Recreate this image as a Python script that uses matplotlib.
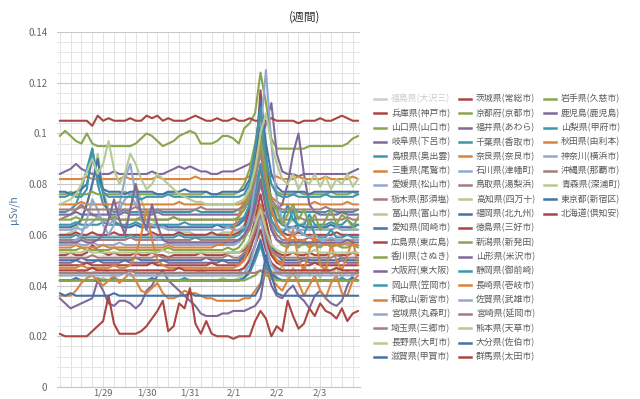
import numpy as np
import pandas as pd
import matplotlib
matplotlib.use("Agg")
import matplotlib.pyplot as plt
from matplotlib.lines import Line2D
from matplotlib.ticker import MultipleLocator, FixedLocator, FuncFormatter
import matplotlib.dates as mdates

plt.rcParams['font.family'] = ['Noto Sans CJK JP', 'DejaVu Sans']

# ---------------- data (3-hourly readings, nSv/h) ----------------
times = pd.date_range('2014-01-28 00:00', periods=56, freq='3h')
tick_labels = ['1/29', '1/30', '1/31', '2/1', '2/2', '2/3']
tick_dates = pd.to_datetime(['2014-01-29', '2014-01-30', '2014-01-31',
                             '2014-02-01', '2014-02-02', '2014-02-03'])

hyogo = [52,52,53,52,52,53,56,54, 53,52,53,52,52,52,53,52, 52,53,52,52,51,52,52,52, 52,52,53,52,52,52,52,53, 53,53,54,58,66,76,66,56, 53,52,52,53,52,52,53,52, 52,52,53,52,52,52,53,52]
yamaguchi = [99,101,99,97,96,100,96,95, 95,95,95,95,95,95,96,98, 100,99,97,95,96,97,99,100, 101,100,96,96,96,97,99,99, 98,96,102,104,108,124,112,98, 94,94,94,94,94,94,95,95, 95,95,95,95,95,96,98,99]
gifu = [84,85,86,88,86,85,84,84, 84,84,85,84,84,84,84,84, 84,85,84,84,85,86,87,86, 87,86,85,85,84,84,85,85, 85,86,87,88,90,96,104,112, 92,85,84,84,83,84,84,84, 84,84,84,84,84,84,85,86]
shimane = [69,69,70,72,78,86,94,80, 72,70,69,69,70,69,69,69, 69,69,70,69,69,69,69,69, 69,70,69,69,69,69,69,69, 69,70,72,78,90,102,84,74, 70,69,69,70,69,69,69,69, 69,69,70,69,69,69,69,70]
mie = [82,82,82,82,82,83,82,82, 82,82,82,82,83,82,82,82, 82,82,83,82,82,82,82,82, 82,83,82,82,82,82,82,82, 82,82,82,83,88,95,86,83, 83,82,82,82,83,82,82,82, 82,83,82,82,82,82,83,82]
ehime = [56,56,56,57,56,56,57,56, 56,56,56,57,56,56,56,56, 56,56,56,56,57,56,56,56, 56,56,56,56,56,56,56,56, 56,57,60,68,82,96,78,62, 58,57,56,56,56,56,57,56, 56,56,56,56,57,56,56,56]
tochigi = [66,67,68,70,72,70,68,67, 66,66,67,66,66,66,66,67, 66,66,66,66,66,67,66,66, 66,66,66,66,66,66,66,66, 66,66,67,68,72,80,74,68, 66,66,66,66,67,66,66,66, 66,66,66,66,66,67,66,66]
toyama = [60,60,61,62,66,72,80,92, 78,70,66,64,62,70,80,74, 68,66,64,63,62,62,61,61, 61,60,60,60,60,60,61,61, 61,62,64,70,82,96,88,74, 68,66,64,66,63,65,62,64, 62,63,62,63,62,62,63,62]
aichi = [63,63,63,64,66,72,80,90, 76,68,65,64,63,63,64,63, 63,63,63,64,63,63,63,63, 63,63,63,63,63,64,63,63, 63,64,66,72,84,104,88,72, 66,64,63,63,64,63,63,63, 63,63,64,63,63,63,63,64]
hiroshima = [60,60,60,61,60,60,61,60, 60,60,61,60,60,60,60,60, 60,61,60,60,60,60,61,60, 60,60,60,60,61,60,60,60, 60,61,63,70,86,117,92,70, 64,61,60,60,61,60,60,60, 60,60,60,61,60,60,60,60]
kagawa = [76,76,77,76,76,76,77,76, 76,76,76,76,77,76,76,76, 76,76,76,76,77,76,76,76, 76,76,76,77,76,76,76,76, 76,77,80,86,96,108,88,80, 77,76,76,76,77,76,76,76, 76,76,77,76,76,76,77,76]
osaka = [49,49,49,50,49,49,49,50, 49,49,49,49,50,49,49,49, 49,49,49,50,49,49,49,49, 49,49,49,49,49,49,50,49, 49,49,51,55,62,68,58,52, 50,49,49,49,49,50,49,49, 49,49,49,49,50,49,49,49]
okayama = [64,64,64,65,64,64,64,64, 65,64,64,64,64,64,65,64, 64,64,64,64,64,64,64,65, 64,64,64,64,64,64,64,64, 64,65,67,72,82,94,80,70, 66,65,72,66,64,64,68,64, 64,64,65,64,64,66,64,64]
wakayama = [72,72,72,72,73,72,72,72, 72,72,72,73,72,72,72,72, 72,72,72,72,72,72,73,72, 72,72,72,72,72,72,72,72, 72,72,73,76,84,92,80,75, 73,72,72,72,72,72,72,73, 72,72,72,72,72,73,72,72]
miyagi = [62,62,62,63,62,63,65,67, 66,64,66,70,74,76,72,68, 65,64,63,63,62,62,62,62, 62,62,62,62,62,62,62,63, 62,62,63,64,66,70,68,65, 63,62,62,63,62,62,62,62, 62,62,62,63,62,62,62,62]
saitama = [58,58,58,58,59,58,58,58, 58,58,58,58,58,59,58,58, 58,58,58,58,58,58,58,58, 58,59,58,58,58,58,58,58, 58,58,59,62,70,80,72,64, 60,58,58,58,58,58,59,58, 58,58,58,58,58,58,58,58]
nagano = [44,44,44,45,44,44,45,46, 47,45,44,44,45,44,44,44, 44,44,44,44,44,44,44,44, 44,44,44,44,44,44,44,44, 44,44,45,46,50,56,50,46, 44,48,43,47,43,48,44,47, 43,48,44,47,43,46,44,45]
shiga = [77,77,76,77,78,80,90,84, 78,77,77,77,76,77,77,77, 77,77,76,76,77,77,77,78, 77,77,77,77,76,76,77,77, 77,77,78,82,92,113,96,84, 79,77,77,77,77,77,76,77, 77,77,77,77,77,77,77,77]
ibaraki = [105,105,105,105,105,105,103,107, 105,106,105,105,105,106,105,105, 107,106,107,105,106,105,105,105, 106,107,106,105,105,106,105,105, 106,105,105,106,105,105,105,106, 105,105,105,105,104,105,105,105, 106,105,105,106,107,106,105,105]
kyoto = [54,54,54,54,55,54,54,54, 54,54,55,54,54,54,54,54, 54,54,54,54,55,54,54,54, 54,54,54,54,54,54,54,55, 54,55,58,64,74,86,72,62, 58,56,55,58,55,57,55,56, 55,57,55,56,55,55,56,55]
fukui = [68,68,68,69,68,68,68,68, 68,68,68,68,69,68,68,68, 68,68,69,68,68,68,68,68, 68,68,68,68,68,68,68,68, 68,68,70,74,80,86,78,72, 70,72,80,92,100,84,72,69, 68,68,68,68,69,68,68,68]
chiba = [59,59,59,60,59,59,59,59, 59,59,59,59,59,60,59,59, 59,59,59,59,59,59,60,59, 59,59,59,59,59,59,59,59, 59,60,62,66,76,88,76,66, 62,60,64,70,62,60,66,60, 59,59,62,59,59,60,59,59]
nara = [55,55,55,56,55,55,55,55, 56,55,55,55,55,55,55,55, 55,55,55,55,56,55,55,55, 55,55,55,55,55,56,56,58, 62,68,74,78,86,96,82,70, 64,60,58,60,57,58,56,58, 57,56,57,56,56,57,56,56]
ishikawa = [57,57,57,58,60,66,74,70, 64,60,64,72,82,88,76,66, 62,60,58,58,57,57,57,57, 57,57,57,57,57,57,57,57, 57,58,60,66,80,100,125,96, 74,66,62,60,62,60,59,60, 58,58,59,58,58,58,58,58]
tottori = [70,70,70,70,71,70,70,70, 70,70,70,70,70,70,71,70, 70,70,70,70,70,70,70,70, 70,70,71,70,70,70,70,70, 70,70,71,74,82,92,82,74, 71,70,70,70,70,70,70,70, 70,71,70,70,70,70,70,70]
kochi = [42,42,42,42,42,42,42,42, 43,42,42,42,42,42,42,42, 42,42,42,42,42,42,42,42, 42,42,42,42,42,42,43,42, 42,43,44,52,62,58,48,44, 43,42,42,42,42,42,42,42, 42,42,42,42,42,42,42,42]
fukuoka = [50,50,50,50,51,50,50,50, 50,50,50,50,50,50,51,50, 50,50,50,50,50,50,50,50, 50,50,50,51,50,50,50,50, 50,50,52,56,64,72,62,55, 52,50,50,50,50,51,50,50, 50,50,50,50,51,50,50,50]
tokushima = [48,48,48,48,48,49,48,48, 48,48,48,48,48,48,48,48, 48,49,48,48,48,48,48,48, 48,48,48,48,49,48,48,48, 48,48,50,54,60,66,58,52, 49,48,48,48,48,48,48,49, 48,48,48,48,48,48,48,48]
niigata = [66,66,66,67,66,66,66,66, 66,66,67,66,66,66,66,66, 66,66,66,66,66,67,66,66, 66,66,66,66,66,66,66,66, 66,67,70,76,86,98,84,72, 70,64,68,72,66,70,64,68, 62,66,70,64,68,66,63,67]
yamagata = [35,33,31,32,33,34,35,42, 38,33,32,34,34,33,31,33, 38,40,44,46,42,40,38,36, 34,32,29,28,28,28,29,29, 30,30,30,31,32,35,48,40, 36,35,38,40,36,34,31,36, 38,35,33,32,34,40,44,46]
shizuoka = [42,42,42,42,42,42,42,42, 42,42,43,42,42,42,42,42, 42,42,42,42,42,42,42,43, 42,42,42,42,42,42,42,42, 42,42,43,45,50,56,48,44, 43,42,42,42,42,42,42,42, 42,42,42,42,43,42,42,42]
nagasaki = [47,47,47,47,48,47,47,47, 47,47,48,47,47,48,52,60, 70,58,50,48,47,47,47,47, 47,47,47,47,47,47,47,47, 47,48,50,56,64,72,62,54, 50,48,56,62,50,46,54,60, 48,46,56,50,46,52,58,48]
saga = [45,45,45,45,46,45,45,45, 45,45,45,45,45,46,45,45, 45,45,45,45,45,45,45,45, 45,45,46,45,45,45,45,45, 45,45,47,50,56,62,54,48, 46,45,45,45,45,45,45,45, 45,46,45,45,45,45,45,45]
miyazaki = [51,51,51,51,51,51,52,51, 51,51,51,51,51,51,51,51, 51,51,52,51,51,51,51,51, 51,51,51,51,51,51,51,52, 51,51,53,56,62,68,60,54, 52,51,51,51,51,51,51,51, 51,51,51,52,51,51,51,51]
kumamoto = [53,53,53,53,53,54,53,53, 53,53,53,53,53,53,53,53, 53,53,53,54,53,53,53,53, 53,53,53,53,53,53,53,53, 53,53,55,58,64,70,62,56, 54,53,53,53,53,53,53,54, 53,53,53,53,53,53,53,53]
oita = [42,42,42,43,42,42,42,42, 42,42,42,42,42,42,42,42, 42,43,42,42,42,42,42,42, 42,42,42,42,42,42,42,42, 42,42,43,46,52,58,50,45, 43,42,42,42,42,42,42,42, 42,42,42,42,42,42,43,42]
gunma = [46,46,46,46,46,46,47,46, 46,46,46,46,46,46,46,46, 46,46,46,46,46,46,47,46, 46,46,46,46,46,46,46,46, 46,46,47,50,56,62,54,49, 47,46,46,46,46,46,46,46, 46,46,46,47,46,46,46,46]
iwate = [42,42,42,42,42,42,42,43, 42,42,42,42,42,42,42,42, 42,42,42,42,42,42,42,42, 42,42,42,42,42,42,42,42, 42,42,42,43,44,46,44,43, 42,42,42,42,42,42,42,42, 42,42,42,42,42,42,42,42]
kagoshima = [57,57,57,57,58,57,57,58, 60,66,74,66,60,70,80,68, 62,72,64,58,57,57,57,57, 57,57,57,57,57,57,57,57, 57,58,60,64,72,82,70,62, 58,57,57,57,57,57,57,57, 57,57,57,57,57,58,57,57]
yamanashi = [75,75,76,75,75,78,94,82, 77,75,75,75,75,75,75,74, 75,75,75,75,76,75,75,75, 75,75,75,75,75,75,75,75, 75,75,76,80,94,110,90,80, 76,75,75,76,75,75,75,75, 75,76,75,75,75,75,75,76]
akita = [36,36,36,38,41,43,44,42, 40,42,44,41,43,45,42,38, 37,39,41,37,35,35,36,38, 37,37,36,35,35,34,34,34, 34,34,35,35,38,41,46,43, 40,38,42,45,41,36,40,44, 38,35,41,44,37,36,42,44]
kanagawa = [44,44,44,44,44,44,44,44, 44,44,44,44,45,44,44,44, 44,44,44,44,44,44,44,44, 44,44,44,44,44,44,44,44, 44,44,45,48,56,66,56,48, 45,44,44,44,44,44,44,44, 44,44,44,44,44,44,44,45]
okinawa = [45,45,45,45,45,45,45,45, 45,45,45,45,45,46,45,45, 45,45,45,45,45,45,45,45, 45,45,45,45,45,45,45,45, 45,45,45,45,45,46,45,45, 45,45,45,45,45,45,45,45, 45,45,45,45,45,45,45,45]
aomori = [72,73,74,76,80,85,90,84, 88,97,86,80,84,92,88,82, 78,80,84,82,80,78,76,75, 74,73,73,72,72,72,72,72, 72,73,74,78,86,100,108,96, 88,82,80,84,78,82,80,84, 79,83,78,82,80,84,79,82]
tokyo = [37,36,37,36,36,36,36,36, 36,36,37,36,36,36,36,36, 36,36,36,36,36,36,36,36, 37,36,36,36,36,36,36,36, 36,36,36,36,36,40,52,44, 37,36,36,36,36,36,36,36, 36,36,36,36,36,36,36,36]
hokkaido = [21,20,20,20,20,20,22,24, 26,36,25,21,21,21,21,22, 24,27,30,34,22,24,33,31, 39,25,21,26,21,20,20,20, 19,20,20,20,26,30,27,20, 24,22,34,28,23,25,31,28, 33,30,29,27,31,26,29,30]

# legend order (column-major), Fukushima hidden (no plotted data)
names = ['福島県(大沢三)', '兵庫県(神戸市)', '山口県(山口市)', '岐阜県(下呂市)', '島根県(奥出雲)',
         '三重県(尾鷲市)', '愛媛県(松山市)', '栃木県(那須塩)', '富山県(富山市)', '愛知県(岡崎市)',
         '広島県(東広島)', '香川県(さぬき)', '大阪府(東大阪)', '岡山県(笠岡市)', '和歌山(新宮市)',
         '宮城県(丸森町)', '埼玉県(三郷市)', '長野県(大町市)', '滋賀県(甲賀市)',
         '茨城県(常総市)', '京都府(京都市)', '福井県(あわら)', '千葉県(香取市)', '奈良県(奈良市)',
         '石川県(津幡町)', '鳥取県(湯梨浜)', '高知県(四万十)', '福岡県(北九州)', '徳島県(三好市)',
         '新潟県(新発田)', '山形県(米沢市)', '静岡県(御前崎)', '長崎県(壱岐市)', '佐賀県(武雄市)',
         '宮崎県(延岡市)', '熊本県(天草市)', '大分県(佐伯市)', '群馬県(太田市)',
         '岩手県(久慈市)', '鹿児島(鹿児島)', '山梨県(甲府市)', '秋田県(由利本)', '神奈川(横浜市)',
         '沖縄県(那覇市)', '青森県(深浦町)', '東京都(新宿区)', '北海道(倶知安)']
series = [None, hyogo, yamaguchi, gifu, shimane, mie, ehime, tochigi, toyama, aichi,
          hiroshima, kagawa, osaka, okayama, wakayama, miyagi, saitama, nagano, shiga,
          ibaraki, kyoto, fukui, chiba, nara, ishikawa, tottori, kochi, fukuoka, tokushima,
          niigata, yamagata, shizuoka, nagasaki, saga, miyazaki, kumamoto, oita, gunma,
          iwate, kagoshima, yamanashi, akita, kanagawa, okinawa, aomori, tokyo, hokkaido]

palette = ['#4572A7', '#AA4643', '#89A54E', '#80699B', '#3D96AE',
           '#DB843D', '#92A8CD', '#A47D7C', '#B5CA92']

for s in series[1:]:
    assert len(s) == len(times), len(s)

# ---------------- figure ----------------
W, H = 640, 399
fig = plt.figure(figsize=(W / 100, H / 100), dpi=100)
ax = fig.add_axes([57 / W, 12 / H, 303 / W, 355 / H])

for i, s in enumerate(series):
    if s is None:
        continue
    ax.plot(times, np.asarray(s) / 1000.0, color=palette[i % 9], lw=1.5,
            solid_joinstyle='round', solid_capstyle='round', zorder=3)

ax.set_ylim(0, 0.14)
ax.set_xlim(times[0] - pd.Timedelta(hours=1.5), times[0] + pd.Timedelta(hours=166))

ax.yaxis.set_major_locator(MultipleLocator(0.02))
ax.yaxis.set_minor_locator(MultipleLocator(0.004))
ax.yaxis.set_major_formatter(FuncFormatter(lambda v, p: '0' if abs(v) < 1e-9 else ('%g' % round(v, 3))))

ax.xaxis.set_major_locator(FixedLocator(mdates.date2num(tick_dates)))
ax.set_xticklabels(tick_labels)
ax.xaxis.set_minor_locator(mdates.HourLocator(byhour=[0, 6, 12, 18]))

ax.grid(which='major', axis='y', color='#c8c8c8', lw=0.8, zorder=0)
ax.grid(which='minor', axis='y', color='#e6e6e6', lw=0.7, zorder=0)
ax.grid(which='minor', axis='x', color='#e2e2e2', lw=0.7, zorder=0)
ax.grid(which='major', axis='x', color='#e2e2e2', lw=0.7, zorder=0)
ax.set_axisbelow(True)

for sp in ['top', 'right', 'left']:
    ax.spines[sp].set_visible(False)
ax.spines['bottom'].set_color('#c0c8d0')
ax.spines['bottom'].set_linewidth(0.8)

ax.tick_params(axis='both', which='both', length=0)
ax.tick_params(axis='y', labelsize=7, labelcolor='#666666', pad=7)
ax.tick_params(axis='x', labelsize=6.8, labelcolor='#666666', pad=1)

ax.set_ylabel('μSv/h', color='#4d759e', fontsize=7.5)
ax.yaxis.set_label_coords(-0.125, 0.5)

fig.text(305 / W, 1 - 17 / H, '(週間)', ha='center', va='center', fontsize=8.5, color='#333333')

# ---------------- legend (manual, column-major like the original) ----------------
rows = 19
col_x = [374, 459, 544]
for i, name in enumerate(names):
    c, r = divmod(i, rows)
    y = 99 + r * 14.33
    x0 = col_x[c]
    hidden = series[i] is None
    col = '#cccccc' if hidden else palette[i % 9]
    fig.add_artist(Line2D([x0 / W, (x0 + 12) / W], [1 - y / H, 1 - y / H],
                          color=col, lw=1.8, transform=fig.transFigure))
    fig.text((x0 + 17) / W, 1 - y / H, name, ha='left', va='center', fontsize=6.4,
             color='#cccccc' if hidden else '#5a5a5a')

fig.savefig('out.png', dpi=100)
